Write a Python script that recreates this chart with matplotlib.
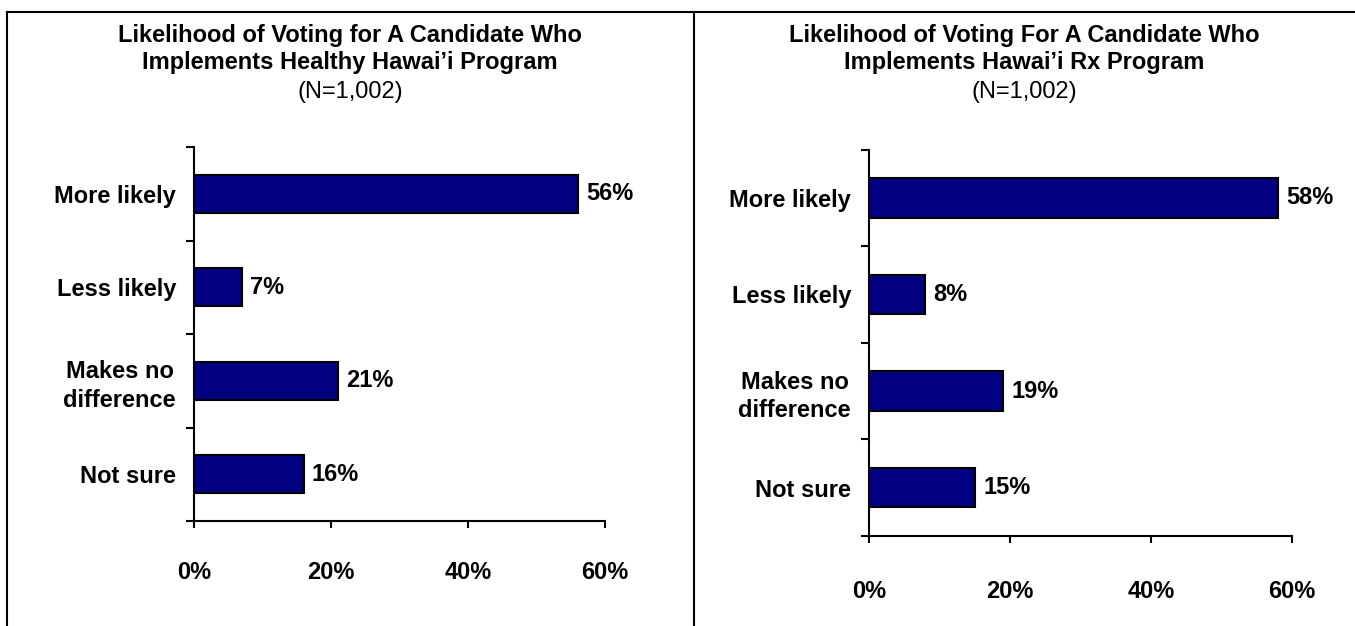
import matplotlib.pyplot as plt
from matplotlib.lines import Line2D

plt.rcParams['font.family'] = ['Liberation Sans', 'DejaVu Sans']

categories = ['More likely', 'Less likely', 'Makes no\ndifference', 'Not sure']
healthy_values = [56, 7, 21, 16]
rx_values = [58, 8, 19, 15]
x_ticks = [0, 20, 40, 60]
x_tick_labels = ['0%', '20%', '40%', '60%']

titles = ['Likelihood of Voting for A Candidate Who\nImplements Healthy Hawai\u2019i Program',
          'Likelihood of Voting For A Candidate Who\nImplements Hawai\u2019i Rx Program']
sample_note = '(N=1,002)'

W, H = 1355, 626
fig = plt.figure(figsize=(W / 100, H / 100), dpi=100)


def px_axes(x0, y0, x1, y1):
    # axes placed by pixel box (top-left origin)
    return fig.add_axes([x0 / W, 1 - y1 / H, (x1 - x0) / W, (y1 - y0) / H])


def draw_panel(ax, values, xpad):
    pos = [i + 0.5 for i in range(len(categories))]
    ax.barh(pos, values, height=0.41, color='#000080', edgecolor='black', linewidth=1.5)
    for p, v in zip(pos, values):
        ax.annotate(f'{v}%', (v, p), xytext=(6, 0), textcoords='offset points',
                    va='center', ha='left', fontsize=17, fontweight='bold')
    ax.set_xlim(0, 60)
    ax.set_ylim(len(categories), 0)
    ax.set_xticks(x_ticks)
    ax.set_xticklabels(x_tick_labels, fontsize=17, fontweight='bold')
    ax.set_yticks(range(len(categories) + 1))
    ax.set_yticklabels([])
    ax.set_yticks(pos, minor=True)
    ax.set_yticklabels(categories, minor=True, fontsize=17, fontweight='bold',
                       multialignment='center', linespacing=1.3)
    ax.tick_params(axis='y', which='major', direction='out', length=6, width=1.5)
    ax.tick_params(axis='y', which='minor', length=0, pad=13)
    ax.tick_params(axis='x', direction='out', length=5, width=1.5, pad=xpad)
    for s in ['top', 'right']:
        ax.spines[s].set_visible(False)
    for s in ['left', 'bottom']:
        ax.spines[s].set_linewidth(1.5)


ax1 = px_axes(194, 147, 605, 521)
draw_panel(ax1, healthy_values, 24)
ax2 = px_axes(869, 149.5, 1292, 536)
draw_panel(ax2, rx_values, 27)

for cx, t in zip([350, 1024], titles):
    fig.text(cx / W, 1 - 49 / H, t, ha='center', va='center', fontsize=17,
             fontweight='bold', linespacing=1.2)
    fig.text(cx / W, 1 - 92 / H, sample_note, ha='center', va='center', fontsize=17)

# panel frame lines
lw = 1.5
fig.add_artist(Line2D([7 / W, 1], [1 - 12 / H, 1 - 12 / H], color='black', lw=lw,
                      transform=fig.transFigure))
fig.add_artist(Line2D([7 / W, 7 / W], [0, 1 - 12 / H], color='black', lw=lw,
                      transform=fig.transFigure))
fig.add_artist(Line2D([694 / W, 694 / W], [0, 1 - 12 / H], color='black', lw=lw,
                      transform=fig.transFigure))

fig.savefig('out.png', dpi=100)
